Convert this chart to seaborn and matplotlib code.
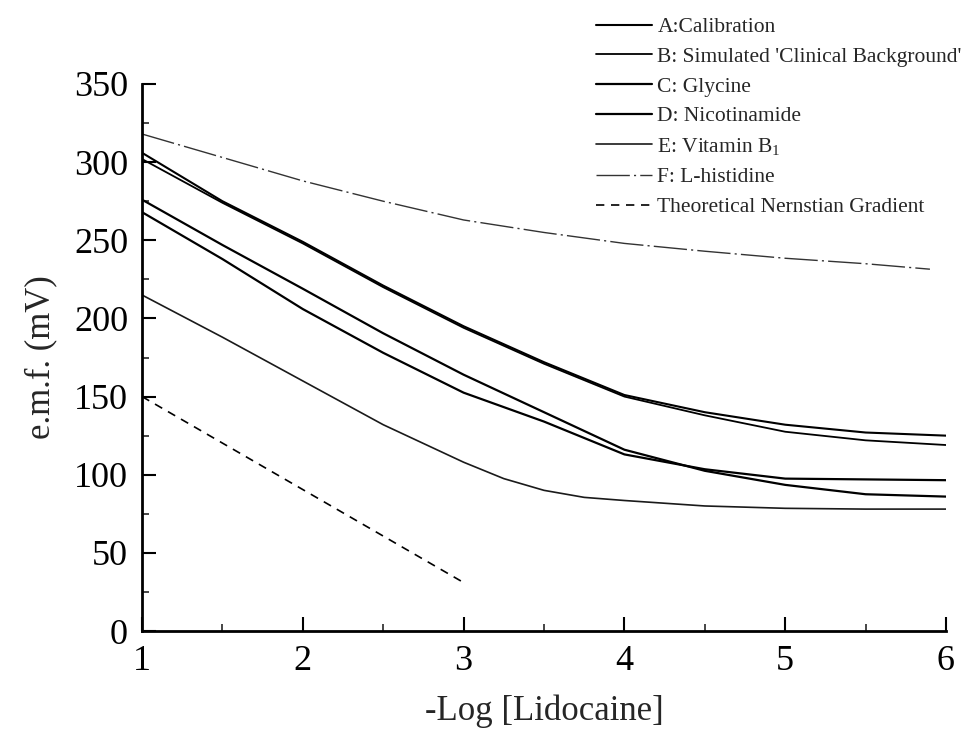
import matplotlib
matplotlib.use("Agg")
import matplotlib.pyplot as plt
import seaborn as sns
import pandas as pd

# ---- data ----
x_vals = [1, 1.5, 2, 2.5, 3, 3.5, 4, 4.5, 5, 5.5, 6]
calibration = [306, 275, 249, 221, 195, 172, 151, 140, 132, 127, 125]
clinical = [302, 274, 248, 220, 194, 171, 150, 138, 127.5, 122, 119]
glycine = [276, 247, 219, 190.5, 164, 140, 116, 102.5, 93.5, 87.5, 86]
nicotinamide = [268, 238, 206, 178, 152.5, 134, 113, 103.5, 97.5, 97, 96.5]
vitb1_x = [1, 1.5, 2, 2.5, 3, 3.25, 3.5, 3.75, 4, 4.5, 5, 5.5, 6]
vitamin_b1 = [215, 188, 160, 132, 108, 97.5, 90, 85.5, 83.5, 80, 78.5, 78, 78]
hist_x = [1, 1.5, 2, 2.5, 3, 3.5, 4, 4.5, 5, 5.5, 5.9]
histidine = [318, 303, 288, 275, 263, 255, 248, 243, 238.5, 235, 231.5]
nernst_x = [1, 3]
nernst = [150, 31]

labels = ["A:Calibration", "B: Simulated 'Clinical Background'", "C: Glycine",
          "D: Nicotinamide", r"E: Vitamin B$_{\mathregular{1}}$", "F: L-histidine",
          "Theoretical Nernstian Gradient"]

sns.set_theme(style="ticks")
plt.rcParams["font.family"] = ["Liberation Serif", "DejaVu Serif"]
plt.rcParams["mathtext.fontset"] = "custom"
plt.rcParams["mathtext.rm"] = "Liberation Serif"

fig = plt.figure(figsize=(9.68, 7.43), dpi=100)
ax = fig.add_axes([142 / 968, 1 - 631 / 743, (946 - 142) / 968, (631 - 84) / 743])

series = [
    (x_vals, calibration, dict(color="black", lw=1.5, linestyle="-")),
    (x_vals, clinical, dict(color="black", lw=1.3, linestyle="-")),
    (x_vals, glycine, dict(color="black", lw=1.6, linestyle="-")),
    (x_vals, nicotinamide, dict(color="black", lw=1.6, linestyle="-")),
    (vitb1_x, vitamin_b1, dict(color="#1a1a1a", lw=1.2, linestyle="-")),
    (hist_x, histidine, dict(color="#333333", lw=1.0, linestyle=(0, (24, 3, 1.5, 3)))),
    (nernst_x, nernst, dict(color="black", lw=1.2, linestyle=(0, (5, 4)))),
]

for (xs, ys, st), lab in zip(series, labels):
    df = pd.DataFrame({"x": xs, "y": ys})
    sns.lineplot(data=df, x="x", y="y", ax=ax, sort=False, estimator=None,
                 label=lab, **st)

ax.set_xlim(1, 6)
ax.set_ylim(0, 350)
ax.set_xticks([1, 2, 3, 4, 5, 6])
ax.set_xticks([1.5, 2.5, 3.5, 4.5, 5.5], minor=True)
ax.set_yticks(range(0, 351, 50))
ax.set_yticks(range(25, 351, 50), minor=True)
sns.despine(ax=ax)
for s in ["left", "bottom"]:
    ax.spines[s].set_linewidth(2)
    ax.spines[s].set_color("black")
ax.tick_params(which="major", direction="in", length=10, width=1.5, labelsize=26,
               pad=10, colors="black")
ax.tick_params(which="minor", direction="in", length=5, width=1.2)

ax.set_xlabel("-Log [Lidocaine]", fontsize=25, labelpad=12)
ax.set_ylabel("e.m.f. (mV)", fontsize=25, labelpad=12)

h, l = ax.get_legend_handles_labels()
ax.legend(h, l, loc="upper left", bbox_to_anchor=(596 / 968, 1 - 17 / 743),
          bbox_transform=fig.transFigure, frameon=False, fontsize=15.5,
          handlelength=2.6, handletextpad=0.25, labelspacing=0.45,
          borderpad=0, borderaxespad=0)

fig.savefig("out.png", dpi=100)
